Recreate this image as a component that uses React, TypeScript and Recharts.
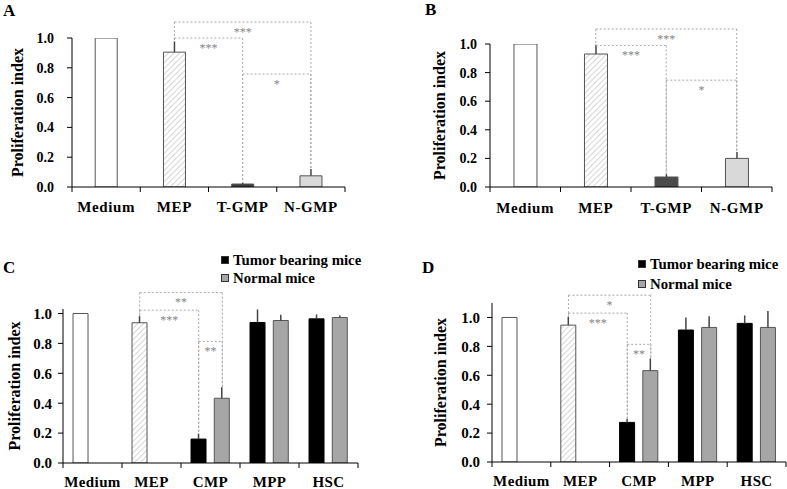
import React from 'react';
import { BarChart, Bar, XAxis, YAxis, Cell, ErrorBar, ReferenceLine, Legend } from 'recharts';

const FONT = "'Liberation Serif', 'Times New Roman', serif";

// ---- panels A / B ----
const categoriesAB = ['Medium', 'MEP', 'T-GMP', 'N-GMP'];
const valuesA = [1.0, 0.905, 0.02, 0.075];
const errorsA = [0, 0.072, 0.008, 0.045];
const valuesB = [1.0, 0.93, 0.07, 0.2];
const errorsB = [0, 0.065, 0.02, 0.045];

// ---- panels C / D ----
const categoriesCD = ['Medium', 'MEP', 'CMP', 'MPP', 'HSC'];
const tumorC = [1.0, 0.938, 0.16, 0.94, 0.964];
const tumorErrC = [0, 0.044, 0.036, 0.087, 0.029];
const normalC = [null, null, 0.433, 0.953, 0.973];
const normalErrC = [null, null, 0.074, 0.038, 0.014];
const tumorD = [1.0, 0.947, 0.274, 0.913, 0.959];
const tumorErrD = [0, 0.058, 0.023, 0.087, 0.055];
const normalD = [null, null, 0.632, 0.931, 0.931];
const normalErrD = [null, null, 0.085, 0.078, 0.113];

const yTicks = [0, 0.2, 0.4, 0.6, 0.8, 1.0];

// significance brackets: [category, series] end points, level, stars
const bracketFromA = [[1, 0], [1, 0], [2, 0]];
const bracketToA = [[3, 0], [2, 0], [3, 0]];
const bracketLevelA = [1.107, 1.0, 0.758];
const bracketStarsA = ['***', '***', '*'];

const bracketFromB = [[1, 0], [1, 0], [2, 0]];
const bracketToB = [[3, 0], [2, 0], [3, 0]];
const bracketLevelB = [1.105, 0.99, 0.747];
const bracketStarsB = ['***', '***', '*'];

const bracketFromC = [[1, 0], [1, 0], [2, 0]];
const bracketToC = [[2, 1], [2, 0], [2, 1]];
const bracketLevelC = [1.14, 1.022, 0.813];
const bracketStarsC = ['**', '***', '**'];

const bracketFromD = [[1, 0], [1, 0], [2, 0]];
const bracketToD = [[2, 1], [2, 0], [2, 1]];
const bracketLevelD = [1.154, 1.03, 0.814];
const bracketStarsD = ['*', '***', '**'];

// bar layout in fractions of a category band
const singleGap = 0.34;
const pairGap = 0.17;
const pairInner = 0.14;
const pairBarW = (1 - 2 * pairGap - pairInner) / 2;
const singleSlots = [0.5];
const pairSlots = [pairGap + pairBarW / 2, 1 - pairGap - pairBarW / 2];

const dataA = categoriesAB.map((name, i) => ({ name, slot: i, v0: valuesA[i], e0: [0, errorsA[i]] }));
const dataB = categoriesAB.map((name, i) => ({ name, slot: i, v0: valuesB[i], e0: [0, errorsB[i]] }));
const dataC = categoriesCD.map((name, i) => ({
  name,
  slot: i,
  v0: tumorC[i],
  e0: [0, tumorErrC[i]],
  v1: normalC[i],
  e1: normalErrC[i] == null ? null : [0, normalErrC[i]],
}));
const dataD = categoriesCD.map((name, i) => ({
  name,
  slot: i,
  v0: tumorD[i],
  e0: [0, tumorErrD[i]],
  v1: normalD[i],
  e1: normalErrD[i] == null ? null : [0, normalErrD[i]],
}));

const barTop = (row: any, s: number) => {
  const v = row['v' + s] ?? 0;
  const e = row['e' + s] ? row['e' + s][1] : 0;
  return v + e;
};

const makeTick = (n: number, fontSize: number, baseline: number, spacing: number) => (props: any) => {
  const { x, y, payload, index } = props;
  const half = payload.offset ?? 0;
  const axisY = y - 5;
  return (
    <g>
      <line x1={x - half} x2={x - half} y1={axisY} y2={axisY + 5} stroke="#000" />
      {index === n - 1 && <line x1={x + half} x2={x + half} y1={axisY} y2={axisY + 5} stroke="#000" />}
      <text
        x={x}
        y={axisY + baseline}
        textAnchor="middle"
        fontFamily={FONT}
        fontWeight={700}
        fontSize={fontSize}
        letterSpacing={spacing}
        fill="#000"
      >
        {payload.value}
      </text>
    </g>
  );
};

const LegendBox = ({ payload, rowH, order }: any) => {
  const items = [...(payload || [])].sort((a: any, b: any) => order.indexOf(a.value) - order.indexOf(b.value));
  return (
    <div style={{ fontFamily: FONT, fontWeight: 700, fontSize: 14.8, color: '#000' }}>
      {items.map((p: any) => (
        <div key={p.value} style={{ display: 'flex', alignItems: 'center', height: rowH, whiteSpace: 'nowrap' }}>
          <span
            style={{
              display: 'inline-block',
              width: 6,
              height: 6,
              background: p.color,
              border: '1px solid #333',
              marginRight: 4,
            }}
          />
          {p.value}
        </div>
      ))}
    </div>
  );
};

type PanelProps = {
  id: string;
  letter: string;
  letterPos: [number, number];
  left: number;
  top: number;
  width: number;
  height: number;
  margin: { top: number; right: number; bottom: number; left: number };
  yAxisWidth: number;
  yMax: number;
  yTickFont: number;
  yTickMargin: number;
  labelOffset: number;
  xTickFont: number;
  xBaseline: number;
  xSpacing: number;
  data: any[];
  n: number;
  fills: string[][];
  seriesNames: string[];
  seriesFills: string[];
  slots: number[];
  catGap: string;
  barGap?: string;
  from: number[][];
  to: number[][];
  levels: number[];
  stars: string[];
  legend?: { top: number; left: number; rowH: number };
};

const Panel = (p: PanelProps) => {
  const hatch = 'hatch' + p.id;
  const bx = (e: number[]) => e[0] + p.slots[e[1]];
  const dotted = { stroke: '#a8a8a8', strokeDasharray: '2 2', strokeWidth: 1 };
  return (
    <div style={{ position: 'absolute', left: p.left, top: p.top }}>
      <BarChart
        width={p.width}
        height={p.height}
        data={p.data}
        margin={p.margin}
        barCategoryGap={p.catGap}
        barGap={p.barGap ?? 0}
      >
        <defs>
          <pattern id={hatch} width="4" height="4" patternUnits="userSpaceOnUse" patternTransform="rotate(45)">
            <rect width="4" height="4" fill="#fff" />
            <line x1="0" y1="0" x2="0" y2="4" stroke="#c4c4c4" strokeWidth="1.4" />
          </pattern>
        </defs>
        <XAxis
          dataKey="name"
          tickLine={false}
          tickSize={5}
          tickMargin={0}
          height={p.margin.bottom > 5 ? 30 : 26}
          stroke="#000"
          interval={0}
          tick={makeTick(p.n, p.xTickFont, p.xBaseline, p.xSpacing)}
        />
        <XAxis xAxisId="pos" dataKey="slot" type="number" domain={[0, p.n]} allowDataOverflow hide />
        <YAxis
          width={p.yAxisWidth}
          domain={[0, p.yMax]}
          allowDataOverflow
          ticks={yTicks}
          tickFormatter={(v: number) => v.toFixed(1)}
          tickSize={5}
          tickMargin={p.yTickMargin}
          stroke="#000"
          tick={{ fontSize: p.yTickFont, fontWeight: 700, fill: '#000', fontFamily: FONT }}
          label={{
            value: 'Proliferation index',
            angle: -90,
            position: 'insideLeft',
            offset: p.labelOffset,
            style: { textAnchor: 'middle' },
            fontSize: 16,
            fontWeight: 700,
            fill: '#000',
            fontFamily: FONT,
          }}
        />
        {p.legend && (
          <Legend
            layout="vertical"
            align="center"
            verticalAlign="middle"
            wrapperStyle={{ top: p.legend.top, left: p.legend.left, width: 160 }}
            content={(props: any) => <LegendBox {...props} rowH={p.legend!.rowH} order={p.seriesNames} />}
          />
        )}
        {p.seriesNames.map((name, s) => (
          <Bar
            key={name}
            dataKey={'v' + s}
            name={name}
            fill={p.seriesFills[s]}
            stroke="#555"
            strokeWidth={1}
            isAnimationActive={false}
          >
            {p.data.map((_, i) => (
              <Cell
                key={i}
                fill={p.fills[s][i] === 'hatch' ? `url(#${hatch})` : p.fills[s][i]}
                stroke={p.fills[s][i] === '#000' ? '#000' : '#555'}
              />
            ))}
            <ErrorBar dataKey={'e' + s} width={0} stroke="#444" strokeWidth={1.5} direction="y" />
          </Bar>
        ))}
        {p.levels.map((lvl, k) => {
          const a = p.from[k];
          const b = p.to[k];
          return (
            <React.Fragment key={k}>
              <ReferenceLine
                xAxisId="pos"
                ifOverflow="visible"
                segment={[{ x: bx(a), y: lvl }, { x: bx(b), y: lvl }]}
                {...dotted}
                label={{ value: p.stars[k], position: 'bottom', offset: 5, fill: '#858585', fontSize: 12, fontFamily: FONT }}
              />
              <ReferenceLine
                xAxisId="pos"
                ifOverflow="visible"
                segment={[{ x: bx(a), y: lvl }, { x: bx(a), y: barTop(p.data[a[0]], a[1]) }]}
                {...dotted}
              />
              <ReferenceLine
                xAxisId="pos"
                ifOverflow="visible"
                segment={[{ x: bx(b), y: lvl }, { x: bx(b), y: barTop(p.data[b[0]], b[1]) }]}
                {...dotted}
              />
            </React.Fragment>
          );
        })}
      </BarChart>
      <div
        style={{
          position: 'absolute',
          left: p.letterPos[0],
          top: p.letterPos[1],
          fontFamily: FONT,
          fontWeight: 700,
          fontSize: 17,
          lineHeight: 1,
          color: '#000',
        }}
      >
        {p.letter}
      </div>
    </div>
  );
};

export default function App() {
  const fillsA = [['#fff', 'hatch', '#3d3d3d', '#d9d9d9']];
  const fillsB = [['#fff', 'hatch', '#4a4a4a', '#d9d9d9']];
  const fillsCD = [
    ['#fff', 'hatch', '#000', '#000', '#000'],
    ['#a6a6a6', '#a6a6a6', '#a6a6a6', '#a6a6a6', '#a6a6a6'],
  ];
  return (
    <div style={{ position: 'absolute', left: 0, top: 0, width: 787, height: 489, background: '#fff' }}>
      <Panel
        id="A"
        letter="A"
        letterPos={[3, 2]}
        left={0}
        top={0}
        width={390}
        height={230}
        margin={{ top: 38, right: 45, bottom: 13, left: 0 }}
        yAxisWidth={72}
        yMax={1.0}
        yTickFont={14}
        yTickMargin={13}
        labelOffset={17.5}
        xTickFont={15}
        xBaseline={25}
        xSpacing={0.6}
        data={dataA}
        n={categoriesAB.length}
        fills={fillsA}
        seriesNames={['index']}
        seriesFills={['#fff']}
        slots={singleSlots}
        catGap={`${singleGap * 100}%`}
        from={bracketFromA}
        to={bracketToA}
        levels={bracketLevelA}
        stars={bracketStarsA}
      />
      <Panel
        id="B"
        letter="B"
        letterPos={[25, 1]}
        left={400}
        top={0}
        width={387}
        height={230}
        margin={{ top: 44, right: 15, bottom: 13, left: 0 }}
        yAxisWidth={90}
        yMax={1.0}
        yTickFont={14}
        yTickMargin={8}
        labelOffset={39.3}
        xTickFont={15}
        xBaseline={26}
        xSpacing={0.6}
        data={dataB}
        n={categoriesAB.length}
        fills={fillsB}
        seriesNames={['index']}
        seriesFills={['#fff']}
        slots={singleSlots}
        catGap={`${singleGap * 100}%`}
        from={bracketFromB}
        to={bracketToB}
        levels={bracketLevelB}
        stars={bracketStarsB}
      />
      <Panel
        id="C"
        letter="C"
        letterPos={[3, 19]}
        left={0}
        top={240}
        width={390}
        height={249}
        margin={{ top: 69, right: 32, bottom: 0, left: 0 }}
        yAxisWidth={63}
        yMax={1.03}
        yTickFont={15}
        yTickMargin={6}
        labelOffset={14}
        xTickFont={15}
        xBaseline={24}
        xSpacing={0.4}
        data={dataC}
        n={categoriesCD.length}
        fills={fillsCD}
        seriesNames={['Tumor bearing mice', 'Normal mice']}
        seriesFills={['#000', '#a6a6a6']}
        slots={pairSlots}
        catGap={`${pairGap * 100}%`}
        barGap={`${pairInner * 100}%`}
        from={bracketFromC}
        to={bracketToC}
        levels={bracketLevelC}
        stars={bracketStarsC}
        legend={{ top: 11, left: 221, rowH: 18.3 }}
      />
      <Panel
        id="D"
        letter="D"
        letterPos={[22, 19]}
        left={400}
        top={240}
        width={387}
        height={249}
        margin={{ top: 63, right: 1, bottom: 1, left: 0 }}
        yAxisWidth={92}
        yMax={1.1}
        yTickFont={15}
        yTickMargin={7}
        labelOffset={40.5}
        xTickFont={15}
        xBaseline={24}
        xSpacing={0.4}
        data={dataD}
        n={categoriesCD.length}
        fills={fillsCD}
        seriesNames={['Tumor bearing mice', 'Normal mice']}
        seriesFills={['#000', '#a6a6a6']}
        slots={pairSlots}
        catGap={`${pairGap * 100}%`}
        barGap={`${pairInner * 100}%`}
        from={bracketFromD}
        to={bracketToD}
        levels={bracketLevelD}
        stars={bracketStarsD}
        legend={{ top: 14, left: 238, rowH: 20 }}
      />
    </div>
  );
}
